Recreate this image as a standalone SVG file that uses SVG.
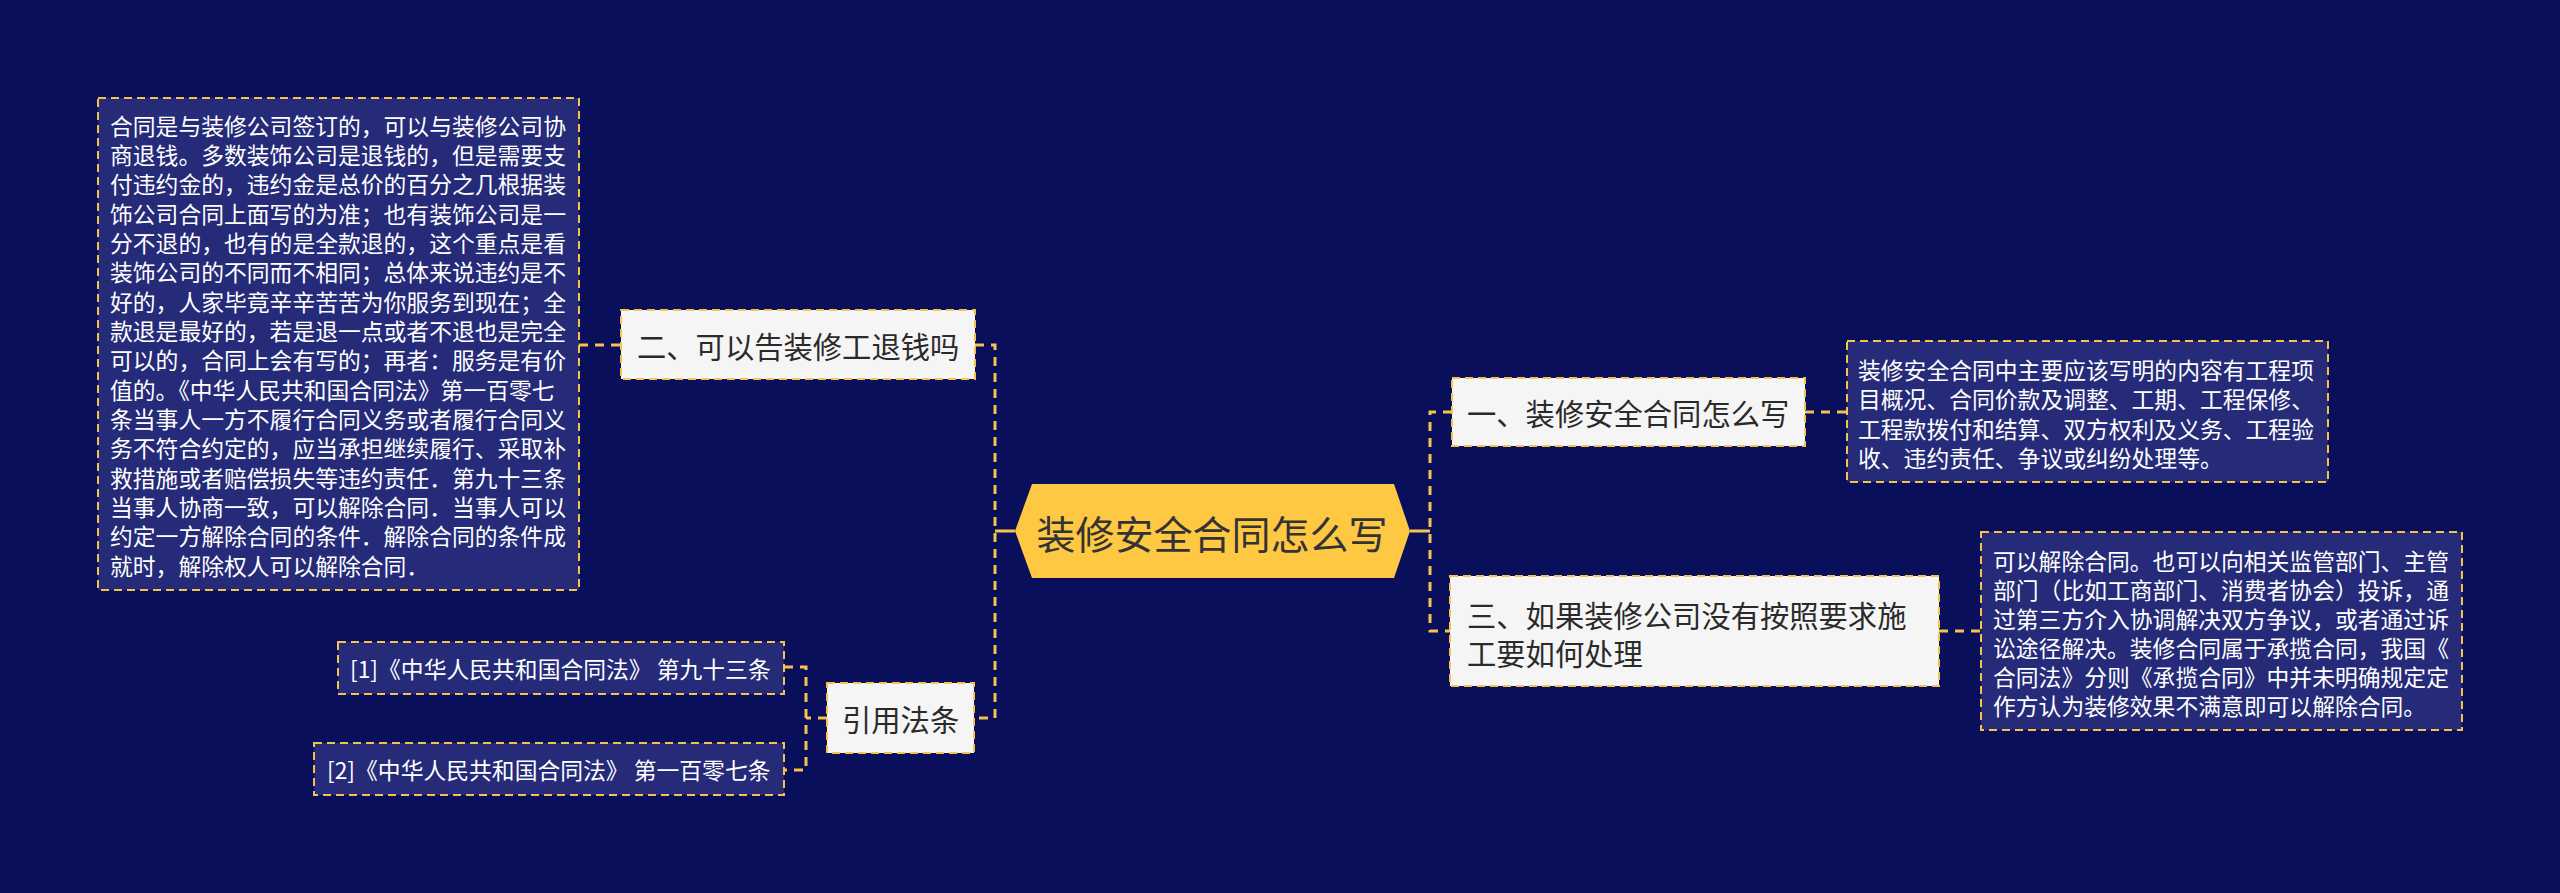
<svg xmlns="http://www.w3.org/2000/svg" width="2560" height="893" viewBox="0 0 2560 893">
<defs>
<style>
text{font-family:"Noto Sans CJK SC","Noto Sans",sans-serif;dominant-baseline:central}
.detail{fill:#252b78;stroke:#f5c24c;stroke-width:2;stroke-dasharray:8 5}
.title{fill:#f5f5f5;stroke:#f5c24c;stroke-width:2;stroke-dasharray:8 5}
.dt{fill:#ffffff;font-size:22.8px}
.tt{fill:#2a2a2a;font-size:29.3px}
.conn{fill:none;stroke:#f5c24c;stroke-width:3;stroke-dasharray:9 7}
.solid{fill:none;stroke:#f5c24c;stroke-width:3}
</style>
</defs>
<rect width="2560" height="893" fill="#0a0f5c"/>
<g id="connectors">
<path class="conn" d="M579,345 H621"/>
<path class="conn" d="M975,345 H995 V718 H974"/>
<path class="solid" d="M1015,531 H995"/>
<path class="conn" d="M1452,412 H1430 V631 H1450"/>
<path class="solid" d="M1410,531 H1430"/>
<path class="conn" d="M1805,412 H1847"/>
<path class="conn" d="M1939,631 H1981"/>
<path class="conn" d="M827,718 H806 M784,667 H806 V770 H784"/>
</g>
<g id="root">
<polygon points="1015,531 1032,484 1394,484 1410,531 1394,578 1032,578" fill="#fec843"/>
<text x="1212" y="532" text-anchor="middle" font-size="39" fill="#333333">装修安全合同怎么写</text>
</g>
<g id="n2">
<rect class="title" x="621" y="310" width="354" height="69"/>
<text class="tt" x="637" y="345">二、可以告装修工退钱吗</text>
</g>
<g id="n2-detail">
<rect class="detail" x="98" y="98" width="481" height="492"/>
<text class="dt" x="110" y="125">合同是与装修公司签订的，可以与装修公司协</text>
<text class="dt" x="110" y="154.3">商退钱。多数装饰公司是退钱的，但是需要支</text>
<text class="dt" x="110" y="183.7">付违约金的，违约金是总价的百分之几根据装</text>
<text class="dt" x="110" y="213">饰公司合同上面写的为准；也有装饰公司是一</text>
<text class="dt" x="110" y="242.3">分不退的，也有的是全款退的，这个重点是看</text>
<text class="dt" x="110" y="271.7">装饰公司的不同而不相同；总体来说违约是不</text>
<text class="dt" x="110" y="301">好的，人家毕竟辛辛苦苦为你服务到现在；全</text>
<text class="dt" x="110" y="330.3">款退是最好的，若是退一点或者不退也是完全</text>
<text class="dt" x="110" y="359.7">可以的，合同上会有写的；再者：服务是有价</text>
<text class="dt" x="110" y="389">值的。《中华人民共和国合同法》第一百零七</text>
<text class="dt" x="110" y="418.3">条当事人一方不履行合同义务或者履行合同义</text>
<text class="dt" x="110" y="447.7">务不符合约定的，应当承担继续履行、采取补</text>
<text class="dt" x="110" y="477">救措施或者赔偿损失等违约责任．第九十三条</text>
<text class="dt" x="110" y="506.3">当事人协商一致，可以解除合同．当事人可以</text>
<text class="dt" x="110" y="535.7">约定一方解除合同的条件．解除合同的条件成</text>
<text class="dt" x="110" y="565">就时，解除权人可以解除合同．</text>
</g>
<g id="n4">
<rect class="title" x="827" y="683" width="147" height="70"/>
<text class="tt" x="842" y="718">引用法条</text>
</g>
<g id="n4-ref1">
<rect class="detail" x="338" y="642" width="446" height="52"/>
<text class="dt" x="350" y="668">[1]《中华人民共和国合同法》 第九十三条</text>
</g>
<g id="n4-ref2">
<rect class="detail" x="314" y="743" width="470" height="52"/>
<text class="dt" x="327" y="769">[2]《中华人民共和国合同法》 第一百零七条</text>
</g>
<g id="n1">
<rect class="title" x="1452" y="378" width="353" height="68"/>
<text class="tt" x="1467" y="412">一、装修安全合同怎么写</text>
</g>
<g id="n1-detail">
<rect class="detail" x="1847" y="341" width="481" height="141"/>
<text class="dt" x="1858" y="369">装修安全合同中主要应该写明的内容有工程项</text>
<text class="dt" x="1858" y="398.5">目概况、合同价款及调整、工期、工程保修、</text>
<text class="dt" x="1858" y="428">工程款拨付和结算、双方权利及义务、工程验</text>
<text class="dt" x="1858" y="457.5">收、违约责任、争议或纠纷处理等。</text>
</g>
<g id="n3">
<rect class="title" x="1450" y="576" width="489" height="110"/>
<text class="tt" x="1467" y="614">三、如果装修公司没有按照要求施</text>
<text class="tt" x="1467" y="652">工要如何处理</text>
</g>
<g id="n3-detail">
<rect class="detail" x="1981" y="532" width="481" height="198"/>
<text class="dt" x="1993" y="560">可以解除合同。也可以向相关监管部门、主管</text>
<text class="dt" x="1993" y="589">部门（比如工商部门、消费者协会）投诉，通</text>
<text class="dt" x="1993" y="618">过第三方介入协调解决双方争议，或者通过诉</text>
<text class="dt" x="1993" y="647">讼途径解决。装修合同属于承揽合同，我国《</text>
<text class="dt" x="1993" y="676">合同法》分则《承揽合同》中并未明确规定定</text>
<text class="dt" x="1993" y="705">作方认为装修效果不满意即可以解除合同。</text>
</g>
</svg>
